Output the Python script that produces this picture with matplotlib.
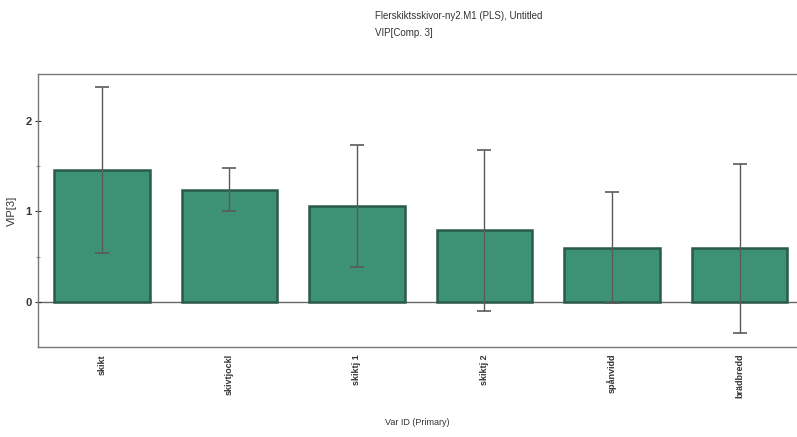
import matplotlib
matplotlib.use("Agg")
import matplotlib.pyplot as plt
import numpy as np

plt.rcParams['font.family'] = ['Liberation Sans', 'DejaVu Sans']

variables = ["skikt", "skivtjockl", "skiktj 1", "skiktj 2", "spånvidd", "brädbredd"]
vip = [1.46, 1.24, 1.06, 0.79, 0.60, 0.59]
vip_err = [0.92, 0.24, 0.67, 0.89, 0.61, 0.93]
yticks = [0, 1, 2]

fig = plt.figure(figsize=(7.97, 4.37), dpi=100)
ax = fig.add_axes([0.0477, 0.2059, 0.9523, 0.6247])

x = np.arange(len(variables))
ax.bar(x, vip, width=0.75, color="#3d9276", edgecolor="#2a5a48", linewidth=1.8, zorder=2)
ax.errorbar(x, vip, yerr=vip_err, fmt="none", ecolor="#5a5a5a", elinewidth=1.0,
            capsize=5.2, capthick=1.2, zorder=3)
ax.axhline(0, color="#666666", linewidth=1.0, zorder=1)

ax.set_xlim(-0.5, 5.45)
ax.set_ylim(-0.5, 2.52)
ax.set_yticks(yticks)
ax.set_yticks([0.5, 1.5], minor=True)
ax.set_xticks(x)
ax.set_xticklabels(variables, rotation=90, fontsize=6.5, fontweight="bold", color="#333333")
ax.tick_params(axis="x", length=0, pad=5)
ax.tick_params(axis="y", which="major", direction="inout", length=5, width=0.8,
               labelsize=8, colors="#333333", pad=2)
ax.tick_params(axis="y", which="minor", direction="inout", length=3, width=0.6, colors="#777777")
for lbl in ax.get_yticklabels():
    lbl.set_fontweight("bold")

for side in ("left", "top", "bottom"):
    ax.spines[side].set_color("#777777")
    ax.spines[side].set_linewidth(1.0)
ax.spines["right"].set_visible(False)

ax.set_ylabel("VIP[3]", fontsize=8, color="#333333", labelpad=6)
ax.set_xlabel("Var ID (Primary)", fontsize=6.5, color="#333333", labelpad=14)

fig.text(0.471, 0.963, "Flerskiktsskivor-ny2.M1 (PLS), Untitled", fontsize=7,
         color="#333333", ha="left", va="center")
fig.text(0.471, 0.924, "VIP[Comp. 3]", fontsize=7, color="#333333", ha="left", va="center")

fig.savefig("out.png", dpi=100)
